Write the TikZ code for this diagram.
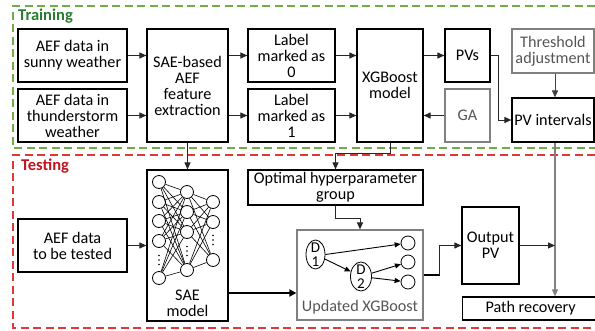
\documentclass[tikz,border=0pt]{standalone}
\usepackage{fontspec}
\setmainfont{Carlito}
\usetikzlibrary{arrows.meta,shapes.geometric}
\definecolor{trgreen}{RGB}{112,173,71}
\definecolor{trtext}{RGB}{40,125,50}
\definecolor{tsred}{RGB}{225,55,55}
\definecolor{tstext}{RGB}{192,20,30}
\definecolor{boxgray}{RGB}{128,128,128}
\definecolor{txtgray}{RGB}{85,85,85}
\begin{document}
\begin{tikzpicture}[x=1pt,y=-1pt,
  txt/.style={font=\fontsize{16.2}{16}\selectfont,align=center,inner sep=0pt},
  box/.style={txt,draw=black,line width=1.2pt,rectangle},
  gbox/.style={box,draw=boxgray,text=txtgray},
  sz/.style 2 args={minimum width=#1pt,minimum height=#2pt},
  arr/.style={draw=black!85,line width=1pt,-{Triangle[length=7pt,width=6pt]}},
  thickarr/.style={draw=black,line width=2.8pt,-{Triangle[length=7pt,width=7pt]}},
  neur/.style={circle,draw=black,fill=white,line width=0.8pt,minimum size=13pt,inner sep=0pt},
  nnline/.style={draw=black,line width=0.6pt},
  leaf/.style={circle,draw=black,line width=0.8pt,minimum size=14pt,inner sep=0pt},
  dnode/.style={ellipse,draw=black,line width=0.8pt,minimum width=19pt,minimum height=29pt,inner sep=0pt},
  dtxt/.style={txt,font=\fontsize{15}{14.5}\selectfont},
  tarr/.style={draw=black,line width=0.9pt,-{Triangle[length=6pt,width=5pt]}},
  frameline/.style={line width=1.1pt,dash pattern=on 8pt off 4.5pt}
]
\useasboundingbox (0,0) rectangle (595,330);

% frames
\draw[frameline,draw=trgreen] (595,6) -- (13,6) -- (13,148) -- (595,148);
\draw[frameline,draw=tsred] (595,155) -- (13,155) -- (13,328) -- (595,328);
\node[txt,font=\fontsize{16.5}{16}\selectfont\bfseries,text=trtext,anchor=west] (trlab) at (18,16.5) {Training};
\node[txt,font=\fontsize{16.5}{16}\selectfont\bfseries,text=tstext,anchor=west] (tslab) at (21,166) {Testing};

% training boxes
\node[box,sz={109}{53}] (sunny) at (72.5,55.5) {AEF data in\\sunny weather};
\node[box,sz={109}{53}] (thunder) at (72.5,115.5) {AEF data in\\thunderstorm\\weather};
\node[box,sz={81}{113}] (sae) at (187.5,85.5) {SAE-based\\AEF\\feature\\extraction};
\node[box,sz={87}{53}] (lab0) at (291.5,55.5) {Label\\marked as\\0};
\node[box,sz={87}{53}] (lab1) at (291.5,115.5) {Label\\marked as\\1};
\node[box,sz={66}{113}] (xgb) at (390,85.5) {XGBoost\\model};
\node[box,sz={45}{53}] (pvs) at (467.5,55.5) {PVs};
\node[gbox,sz={45}{53}] (ga) at (467.5,115.5) {GA};
\node[gbox,sz={82}{44}] (thr) at (553,51) {Threshold\\adjustment};
\node[box,sz={82}{44}] (pvint) at (553,120) {PV intervals};
\coordinate (vx) at (555,0);

% testing boxes
\node[box,sz={109}{53}] (aeft) at (72.5,245.5) {AEF data\\to be tested};
\node[box,sz={81}{151}] (saem) at (187.5,245.5) {};
\node[txt] (saemt) at (187.5,303.5) {SAE\\model};
\node[box,sz={175}{35}] (opt) at (335.5,187.5) {Optimal hyperparameter\\group};
\node[gbox,sz={126}{90}] (upd) at (360,275) {};
\node[txt,text=txtgray] (updt) at (360,307) {Updated XGBoost};
\node[box,sz={57}{77}] (outpv) at (490.5,245.5) {Output\\PV};
\node[box,sz={136}{23},anchor=west] (path) at (462,308.5) {Path recovery};

% SAE network
\foreach \i/\y in {1/182,2/202,3/221,4/241,5/278} \node[neur] (a\i) at (159,\y) {};
\foreach \i/\y in {1/192,2/212,3/232,4/270} \node[neur] (b\i) at (187,\y) {};
\foreach \i/\y in {1/202,2/222,3/260} \node[neur] (c\i) at (213,\y) {};
\foreach \i in {1,...,5} \foreach \j in {1,...,4} \draw[nnline] (a\i) -- (b\j);
\foreach \i in {1,...,4} \foreach \j in {1,...,3} \draw[nnline] (b\i) -- (c\j);
\foreach \d in {-4.5,0,4.5} {
  \fill ({159},{260+\d}) circle (0.9);
  \fill ({187},{251+\d}) circle (0.9);
  \fill ({213},{240+\d}) circle (0.9);
}

% Updated XGBoost internals
\node[dnode] (d1) at (315.5,254.5) {};
\node[dtxt] (d1t) at (d1) {D\\1};
\node[dnode,minimum width=21pt] (d2) at (361,276.5) {};
\node[dtxt] (d2t) at (d2) {D\\2};
\node[leaf] (l1) at (408,243) {};
\node[leaf] (l2) at (408,262) {};
\node[leaf] (l3) at (408,282) {};
\draw[tarr] (d1.east) -- (l1);
\draw[tarr] (d1) -- (d2);
\draw[tarr] (d2) -- (l2);
\draw[tarr] (d2) -- (l3);

% training connectors
\draw[arr] (sunny.east) -- (sunny.east -| sae.west);
\draw[arr] (thunder.east) -- (thunder.east -| sae.west);
\draw[arr] (sae.east |- lab0) -- (lab0.west);
\draw[arr] (sae.east |- lab1) -- (lab1.west);
\draw[arr] (lab0.east) -- (lab0.east -| xgb.west);
\draw[arr] (lab1.east) -- (lab1.east -| xgb.west);
\draw[arr] (xgb.east |- pvs) -- (pvs.west);
\draw[arr] (ga.west) -- (ga.west -| xgb.east);
\draw[arr] (pvs.east) -- ++(8,0) |- (pvint.west);
\draw[arr,draw=black!75] (thr.south -| vx) -- (pvint.north -| vx);

% cross connectors
\draw[arr] (sae.south) -- (saem.north);
\draw[arr] (xgb.south) -- ++(0,10.5) -| (opt.north);
\draw[arr] (opt.south) -- ++(0,12.5) -| (upd.north);
\draw[arr,draw=boxgray,line width=1.3pt] (pvint.south -| vx) -- (path.north -| vx);

% testing connectors
\draw[arr] (aeft.east) -- (saem.west);
\draw[thickarr] ([yshift=-47.5pt]saem.east) -- ([yshift=-47.5pt]saem.east -| upd.west);
\draw[line width=2.8pt] (upd.east) -- ([xshift=16pt]upd.east);
\draw[arr] ([xshift=16pt]upd.east) |- (outpv.west);
\draw[arr] (outpv.east) -- (outpv.east -| vx);
\end{tikzpicture}
\end{document}
